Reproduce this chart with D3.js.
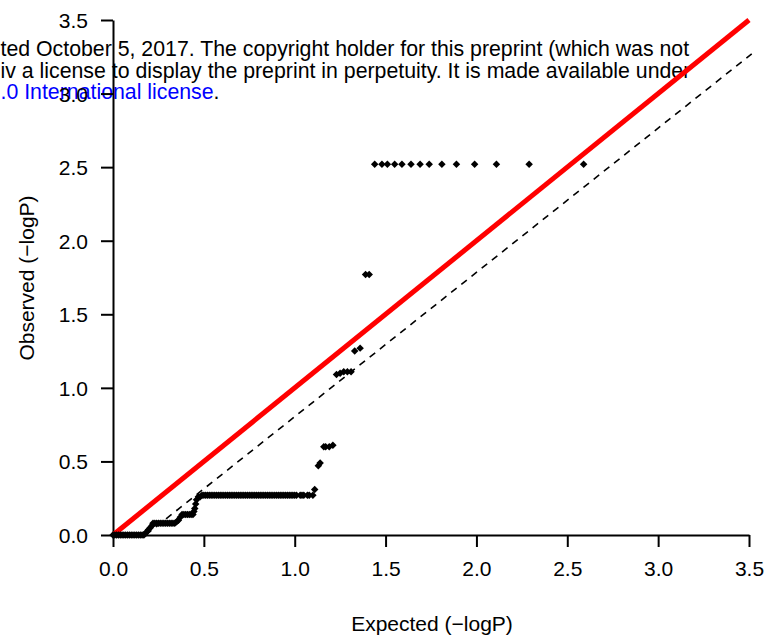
<!DOCTYPE html>
<html>
<head>
<meta charset="utf-8">
<script src="https://cdn.jsdelivr.net/npm/d3@7"></script>
<style>
  html, body { margin: 0; padding: 0; background: #fff; overflow: hidden; }
  svg { display: block; font-family: "Liberation Sans", Arial, Helvetica, sans-serif; }
</style>
</head>
<body>
<svg id="chart" width="768" height="636"></svg>
<script>
// ---------------- data ----------------
const xTicks = [0, 0.5, 1.0, 1.5, 2.0, 2.5, 3.0, 3.5];
const yTicks = [0, 0.5, 1.0, 1.5, 2.0, 2.5, 3.0, 3.5];
const xTitle = "Expected (\u2212logP)";
const yTitle = "Observed (\u2212logP)";

// expected -logP (x) and observed -logP (y), high to low
const expectedLogP = [
  2.59, 2.29, 2.11, 1.99, 1.89, 1.81, 1.74, 1.69, 1.64, 1.59, 1.55, 1.51, 1.48, 1.44,
  1.41, 1.39,
  1.36, 1.33,
  1.31, 1.29, 1.27, 1.25, 1.23,
  1.21, 1.19, 1.17, 1.16,
  1.14, 1.13,
  1.11,
  1.10, 1.08, 1.07, 1.05, 1.04, 1.03, 1.01, 1.00, 0.99, 0.98,
  0.97, 0.96, 0.95, 0.94, 0.93, 0.92, 0.91, 0.90, 0.89, 0.88,
  0.87, 0.86, 0.85, 0.84, 0.83, 0.82, 0.81, 0.80, 0.79, 0.78,
  0.77, 0.76, 0.75, 0.74, 0.73, 0.72, 0.71, 0.70, 0.69, 0.68,
  0.67, 0.66, 0.65, 0.64, 0.63, 0.62, 0.61, 0.60, 0.59, 0.58,
  0.57, 0.56, 0.55, 0.54, 0.53, 0.52, 0.51, 0.50, 0.49, 0.48, 0.47,
  0.46, 0.455, 0.45, 0.445,
  0.44, 0.43, 0.42, 0.41, 0.40, 0.39, 0.38,
  0.37, 0.36, 0.35,
  0.34, 0.33, 0.32, 0.31, 0.30, 0.29, 0.28, 0.27, 0.26, 0.25, 0.24, 0.23, 0.22,
  0.215, 0.205, 0.195, 0.185, 0.178,
  0.17, 0.16, 0.15, 0.14, 0.13, 0.12, 0.11, 0.10, 0.09, 0.08,
  0.07, 0.06, 0.05, 0.04, 0.03, 0.02, 0.01, 0.00
];
const observedLogP = [
  2.52, 2.52, 2.52, 2.52, 2.52, 2.52, 2.52, 2.52, 2.52, 2.52, 2.52, 2.52, 2.52, 2.52,
  1.77, 1.77,
  1.27, 1.25,
  1.11, 1.11, 1.11, 1.10, 1.09,
  0.61, 0.60, 0.60, 0.60,
  0.49, 0.47,
  0.31,
  0.27, 0.27, 0.27, 0.27, 0.27, 0.27, 0.27, 0.27, 0.27, 0.27,
  0.27, 0.27, 0.27, 0.27, 0.27, 0.27, 0.27, 0.27, 0.27, 0.27,
  0.27, 0.27, 0.27, 0.27, 0.27, 0.27, 0.27, 0.27, 0.27, 0.27,
  0.27, 0.27, 0.27, 0.27, 0.27, 0.27, 0.27, 0.27, 0.27, 0.27,
  0.27, 0.27, 0.27, 0.27, 0.27, 0.27, 0.27, 0.27, 0.27, 0.27,
  0.27, 0.27, 0.27, 0.27, 0.27, 0.27, 0.27, 0.27, 0.27, 0.26, 0.26,
  0.24, 0.21, 0.18, 0.16,
  0.14, 0.14, 0.14, 0.14, 0.14, 0.14, 0.14,
  0.12, 0.10, 0.09,
  0.08, 0.08, 0.08, 0.08, 0.08, 0.08, 0.08, 0.08, 0.08, 0.08, 0.08, 0.08, 0.08,
  0.065, 0.05, 0.035, 0.02, 0.01,
  0, 0, 0, 0, 0, 0, 0, 0, 0, 0,
  0, 0, 0, 0, 0, 0, 0, 0
];

// reference lines (data coordinates)
const identityLine = [[0, 0], [3.5, 3.5]];
const dashedLine = [[0.18, 0], [3.515, 3.27]];

// preprint notice overlaid on the figure
const noticeLines = [
  [{ t: "ted October 5, 2017. The copyright holder for this preprint (which was not", c: "#000" }],
  [{ t: "iv a license to display the preprint in perpetuity. It is made available under", c: "#000" }],
  [{ t: ".0 International license", c: "#0000ff" }, { t: ".", c: "#000" }]
];

// ---------------- drawing ----------------
const svg = d3.select("#chart");
const x = d3.scaleLinear().domain([0, 3.5]).range([113, 749]);
const y = d3.scaleLinear().domain([0, 3.5]).range([535, 20]);

// notice text (underneath)
const notice = svg.append("g").attr("font-size", 21.3);
noticeLines.forEach((parts, i) => {
  const t = notice.append("text")
    .attr("x", 0.5)
    .attr("y", 56 + i * 21.5)
    .attr("text-anchor", "start");
  parts.forEach(p => t.append("tspan").attr("fill", p.c).text(p.t));
});

// axes
const xAxis = d3.axisBottom(x).tickValues(xTicks).tickFormat(d3.format(".1f"))
  .tickSizeInner(12).tickSizeOuter(0).tickPadding(14);
const yAxis = d3.axisLeft(y).tickValues(yTicks).tickFormat(d3.format(".1f"))
  .tickSizeInner(12).tickSizeOuter(0).tickPadding(13);

const gx = svg.append("g").attr("transform", "translate(0,535)").call(xAxis);
const gy = svg.append("g").attr("transform", "translate(113,0)").call(yAxis);
[gx, gy].forEach(g => {
  g.attr("font-family", null).attr("font-size", 21);
  g.selectAll("path.domain, .tick line").attr("stroke", "#000").attr("stroke-width", 2);
  g.selectAll(".tick text").attr("fill", "#000");
});
gy.selectAll(".tick text").attr("dy", "0.36em");

// axis titles
svg.append("text")
  .attr("x", 432).attr("y", 631)
  .attr("text-anchor", "middle").attr("font-size", 21)
  .text(xTitle);
svg.append("text")
  .attr("transform", "translate(34,278) rotate(-90)")
  .attr("text-anchor", "middle").attr("font-size", 21)
  .text(yTitle);

// dashed reference line
const line = d3.line().x(d => x(d[0])).y(d => y(d[1]));
svg.append("path")
  .datum(dashedLine)
  .attr("d", line)
  .attr("fill", "none")
  .attr("stroke", "#000")
  .attr("stroke-width", 1.6)
  .attr("stroke-dasharray", "7,6");

// red identity line
svg.append("path")
  .datum(identityLine)
  .attr("d", line)
  .attr("fill", "none")
  .attr("stroke", "#ff0000")
  .attr("stroke-width", 5);

// points (filled diamonds)
const pts = expectedLogP.map((e, i) => ({ e, o: observedLogP[i] }));
const diamond = d3.symbol().type(d3.symbolSquare).size(28);
svg.append("g").selectAll("path")
  .data(pts)
  .join("path")
  .attr("d", diamond)
  .attr("transform", d => `translate(${x(d.e)},${y(d.o)}) rotate(45)`)
  .attr("fill", "#000");
</script>
</body>
</html>
